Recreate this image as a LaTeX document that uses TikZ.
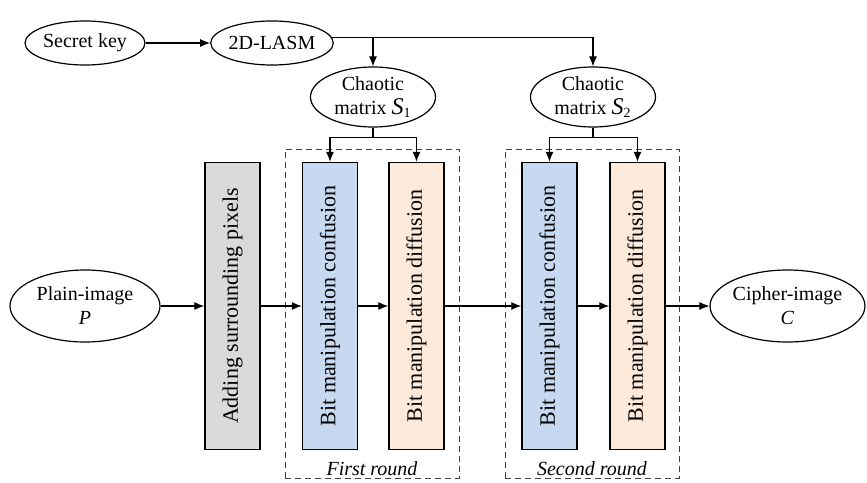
\documentclass[tikz,border=0pt,10pt]{standalone}
\usepackage{fontspec}
\setmainfont{Liberation Serif}
\usepackage{tikz}
\usetikzlibrary{shapes.geometric, positioning, arrows.meta}
\definecolor{addgray}{RGB}{217,218,219}
\definecolor{confblue}{RGB}{198,217,240}
\definecolor{diffpeach}{RGB}{252,233,218}
\tikzset{
>={Latex[length=5pt,width=4pt]}, % filled triangle heads
x=0.5pt, y=-0.5pt, % one unit = one pixel of the layout
oval/.style={draw, ellipse, inner sep=0pt, align=center, line width=0.6pt}, % key, map, images
stage/.style={draw, rotate=90, line width=0.7pt, minimum width=143.5pt, minimum height=27.5pt, inner sep=0pt,
  font=\fontsize{11}{13}\selectfont}, % vertical process boxes
roundbox/.style={draw=black!75, densely dashed, line width=0.4pt, minimum width=87pt, minimum height=164.5pt}, % one encryption round
flow/.style={->, line width=0.55pt},
}
\newcommand{\mvar}[1]{\textit{#1}}

\begin{document}
\begin{tikzpicture}
        \useasboundingbox (0,0) rectangle (867,482);

        % key schedule
        \node[oval, minimum width=60pt, minimum height=22pt] (key) at (85,43) {Secret key};
        \node[oval, minimum width=60pt, minimum height=22pt, right of=key, node distance=93.5pt] (lasm) {2D-LASM};
        \node[oval, minimum width=62.5pt, minimum height=30pt] (s1) at (373,97) {Chaotic\\ matrix {\large\mvar{S}}\textsubscript{1}};
        \node[oval, minimum width=62.5pt, minimum height=30pt, right of=s1, node distance=110pt] (s2) {Chaotic\\ matrix {\large\mvar{S}}\textsubscript{2}};

        % main row
        \node[oval, minimum width=75pt, minimum height=36pt] (plain) at (85,306) {Plain-image\\ \mvar{P}};
        \node[stage, fill=addgray] (add) at (232.5,306) {Adding surrounding pixels};
        \node[stage, fill=confblue] (conf1) at (330,306) {Bit manipulation confusion};
        \node[stage, fill=diffpeach] (diff1) at (416.5,306) {Bit manipulation diffusion};
        \node[stage, fill=confblue] (conf2) at (549.5,306) {Bit manipulation confusion};
        \node[stage, fill=diffpeach] (diff2) at (637.5,306) {Bit manipulation diffusion};
        \node[oval, minimum width=75pt, minimum height=36pt, right of=diff2, node distance=75pt] (cipher) {Cipher-image\\ \mvar{C}};

        % rounds
        \node[roundbox] (round1) at (372,313.5) {};
        \node[roundbox] (round2) at (592,313.5) {};
        \node[above=1pt of round1.south, inner sep=0pt, font=\itshape] (round1text) {First round};
        \node[above=1pt of round2.south, inner sep=0pt, font=\itshape] (round2text) {Second round};

        \coordinate[below=5pt of s1.south] (split1);
        \coordinate[below=5pt of s2.south] (split2);

        \draw[flow] (key) -- (lasm);
        \draw[flow] (lasm.5) -| (s2);
        \draw[flow] (lasm.5 -| s1) -- (s1);
        \draw[line width=0.55pt] (s1) -- (split1);
        \draw[line width=0.55pt] (s2) -- (split2);
        \draw[flow] (split1) -| (conf1);
        \draw[flow] (split1) -| (diff1);
        \draw[flow] (split2) -| (conf2);
        \draw[flow] (split2) -| (diff2);

        \draw[flow] (plain) -- (add);
        \draw[flow] (add) -- (conf1);
        \draw[flow] (conf1) -- (diff1);
        \draw[flow] (diff1) -- (conf2);
        \draw[flow] (conf2) -- (diff2);
        \draw[flow] (diff2) -- (cipher);
      \end{tikzpicture}
\end{document}
